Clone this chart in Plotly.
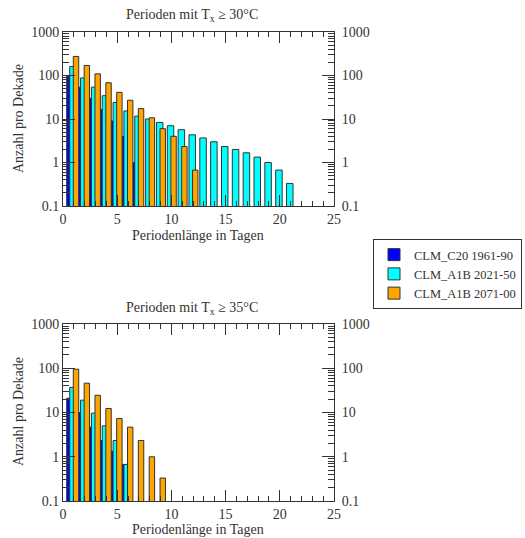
import plotly.graph_objects as go

# ---- data (Anzahl pro Dekade) ----
days_30_c20 = [1, 2, 3, 4, 5, 6, 7]
c20_30 = [100, 54, 30, 16.67, 9, 4, 1]
days_30_a1b1 = list(range(1, 22))
a1b1_30 = [161, 88, 54, 34.33, 24, 15.33, 11.67, 10, 8.33, 7, 5.67, 4.33, 3.67, 3,
           2.33, 2, 1.67, 1.33, 1, 0.67, 0.33]
days_30_a1b2 = list(range(1, 13))
a1b2_30 = [274, 170, 109, 68, 41, 27, 17.33, 10.67, 6, 4, 2.33, 0.67]

days_35_c20 = [1, 2, 3, 4, 5, 6]
c20_35 = [21, 10, 4.67, 2.33, 1.33, 0.67]
days_35_a1b1 = [1, 2, 3, 4, 5, 6]
a1b1_35 = [37, 19, 9.67, 5, 2.33, 0.67]
days_35_a1b2 = [1, 2, 3, 4, 5, 6, 7, 8, 9]
a1b2_35 = [95, 46, 24.5, 12.33, 7.33, 4.67, 2.33, 1, 0.33]

series_names = ["CLM_C20 1961-90", "CLM_A1B 2021-50", "CLM_A1B 2071-00"]
colors = ["#0000ff", "#00ffff", "#ffa500"]
offsets = [-0.66, -0.38, -0.05]
widths = [0.5, 0.6, 0.5]

ytickvals = [0.1, 1, 10, 100, 1000]
yticktext = ["0.1", "1", "10", "100", "1000"]

FONT = "Liberation Serif, Times New Roman, serif"
W, H = 525, 538

fig = go.Figure()

panels = [
    ("x", "y", [(days_30_c20, c20_30), (days_30_a1b1, a1b1_30), (days_30_a1b2, a1b2_30)], True),
    ("x2", "y2", [(days_35_c20, c20_35), (days_35_a1b1, a1b1_35), (days_35_a1b2, a1b2_35)], False),
]
for xa, ya, series, showleg in panels:
    for i, (dx, dy) in enumerate(series):
        fig.add_trace(go.Bar(
            x=dx, y=dy, xaxis=xa, yaxis=ya,
            name=series_names[i], showlegend=showleg,
            offset=offsets[i], width=widths[i],
            marker=dict(color=colors[i], line=dict(color="#333333", width=1)),
        ))

# invisible helpers for right-side axes
fig.add_trace(go.Scatter(x=[1], y=[1], xaxis="x", yaxis="y3", mode="markers",
                         marker=dict(opacity=0), showlegend=False, hoverinfo="skip"))
fig.add_trace(go.Scatter(x=[1], y=[1], xaxis="x2", yaxis="y4", mode="markers",
                         marker=dict(opacity=0), showlegend=False, hoverinfo="skip"))

def px_x(p):
    return p / W

def px_y(p):
    return 1 - p / H

xdom = [px_x(63), px_x(334)]
top_dom = [px_y(206), px_y(32)]
bot_dom = [px_y(501), px_y(324)]

tickfont = dict(family=FONT, size=14, color="#333333")
axcol = "#333333"

def xaxis(domain, anchor):
    return dict(domain=domain, anchor=anchor, range=[0, 25], dtick=5, tick0=0,
                ticks="inside", ticklen=11, tickcolor=axcol, tickwidth=1,
                minor=dict(dtick=1, ticks="inside", ticklen=5, tickcolor=axcol),
                showline=True, linecolor=axcol, linewidth=1, mirror="ticks",
                showgrid=False, zeroline=False, tickfont=tickfont, fixedrange=True,
                automargin=False)

def yaxis(domain, anchor, side="left", overlaying=None):
    d = dict(type="log", range=[-1, 3], tickvals=ytickvals, ticktext=yticktext,
             ticks="inside", ticklen=12, tickcolor=axcol, tickwidth=1,
             minor=dict(dtick="D1", ticks="inside", ticklen=6, tickcolor=axcol),
             showline=True, linecolor=axcol, linewidth=1,
             showgrid=False, zeroline=False, tickfont=tickfont, side=side,
             fixedrange=True, automargin=False)
    if overlaying:
        d.update(overlaying=overlaying, anchor=anchor, ticklabelstandoff=4)
    else:
        d.update(domain=domain, anchor=anchor, mirror=True)
    return d

fig.update_layout(
    width=W, height=H,
    margin=dict(l=0, r=0, t=0, b=0, autoexpand=False),
    paper_bgcolor="white", plot_bgcolor="white",
    barmode="overlay",
    xaxis=xaxis(xdom, "y"),
    yaxis=yaxis(top_dom, "x"),
    xaxis2=xaxis(xdom, "y2"),
    yaxis2=yaxis(bot_dom, "x2"),
    yaxis3=yaxis(top_dom, "x", side="right", overlaying="y"),
    yaxis4=yaxis(bot_dom, "x2", side="right", overlaying="y2"),
    font=dict(family=FONT, size=14, color="#333333"),
    legend=dict(x=px_x(373), y=px_y(239), xanchor="left", yanchor="top",
                bordercolor="#333333", borderwidth=1, bgcolor="white",
                font=dict(family=FONT, size=12.5, color="#333333"),
                traceorder="normal"),
    showlegend=True,
)

titles = [
    ("Perioden mit T<sub>x</sub> ≥ 30°C", 192, 15),
    ("Perioden mit T<sub>x</sub> ≥ 35°C", 192, 308),
]
for txt, cx, cy in titles:
    fig.add_annotation(text=txt, x=px_x(cx), y=px_y(cy), xref="paper", yref="paper",
                       showarrow=False, xanchor="center", yanchor="middle",
                       font=dict(family=FONT, size=14, color="#333333"))

for cy in (235, 529):
    fig.add_annotation(text="Periodenlänge in Tagen", x=px_x(198), y=px_y(cy),
                       xref="paper", yref="paper", showarrow=False,
                       xanchor="center", yanchor="middle",
                       font=dict(family=FONT, size=14, color="#333333"))
for cy in (119, 412):
    fig.add_annotation(text="Anzahl pro Dekade", x=px_x(18), y=px_y(cy),
                       xref="paper", yref="paper", showarrow=False, textangle=-90,
                       xanchor="center", yanchor="middle",
                       font=dict(family=FONT, size=14, color="#333333"))

fig.write_html("out.html")
